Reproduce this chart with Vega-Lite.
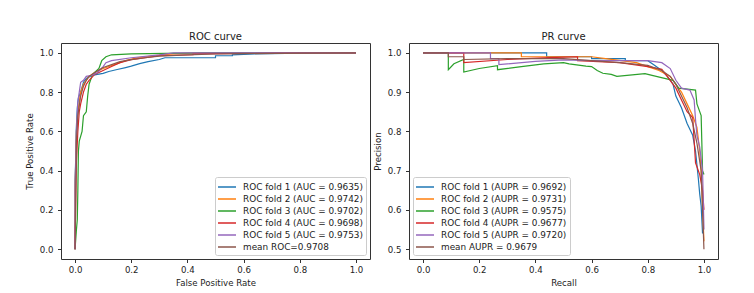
{
  "$schema": "https://vega.github.io/schema/vega-lite/v6.json",
  "background": "white",
  "padding": {"left": 24, "top": 31, "right": 5, "bottom": 5},
  "bounds": "flush",
  "spacing": 39,
  "config": {
    "font": "DejaVu Sans",
    "view": {"stroke": "#333", "strokeWidth": 1},
    "axis": {"domain": false, "grid": false, "ticks": true, "tickSize": 3.5, "tickColor": "#333", "labelFontSize": 8.6, "labelColor": "#222", "titleFontSize": 8.6, "titleFontWeight": "normal", "titleColor": "#222", "labelPadding": 3, "titlePadding": 4},
    "axisY": {"labelPadding": 4.5, "titlePadding": 5},
    "title": {"fontSize": 10, "fontWeight": "normal", "color": "#222", "offset": 1},
    "legend": {"symbolType": "M-1.5,0H1.5", "symbolSize": 144, "symbolStrokeWidth": 1.5, "symbolOffset": 2, "labelFontSize": 8.9, "labelColor": "#222", "rowPadding": 0, "padding": 3, "strokeColor": "#cccccc", "cornerRadius": 2, "fillColor": "white", "labelOffset": 9, "offset": 4}
  },
  "datasets": {
    "roc": [
      {"f":"ROC fold 1 (AUC = 0.9635)","i":0,"x":0,"y":0},{"f":"ROC fold 1 (AUC = 0.9635)","i":1,"x":0,"y":0.35},{"f":"ROC fold 1 (AUC = 0.9635)","i":2,"x":0.002,"y":0.44},{"f":"ROC fold 1 (AUC = 0.9635)","i":3,"x":0.004,"y":0.6},{"f":"ROC fold 1 (AUC = 0.9635)","i":4,"x":0.008,"y":0.72},{"f":"ROC fold 1 (AUC = 0.9635)","i":5,"x":0.012,"y":0.77},{"f":"ROC fold 1 (AUC = 0.9635)","i":6,"x":0.02,"y":0.8},{"f":"ROC fold 1 (AUC = 0.9635)","i":7,"x":0.03,"y":0.85},{"f":"ROC fold 1 (AUC = 0.9635)","i":8,"x":0.04,"y":0.87},{"f":"ROC fold 1 (AUC = 0.9635)","i":9,"x":0.06,"y":0.885},{"f":"ROC fold 1 (AUC = 0.9635)","i":10,"x":0.08,"y":0.89},{"f":"ROC fold 1 (AUC = 0.9635)","i":11,"x":0.1,"y":0.895},{"f":"ROC fold 1 (AUC = 0.9635)","i":12,"x":0.12,"y":0.905},{"f":"ROC fold 1 (AUC = 0.9635)","i":13,"x":0.15,"y":0.915},{"f":"ROC fold 1 (AUC = 0.9635)","i":14,"x":0.18,"y":0.925},{"f":"ROC fold 1 (AUC = 0.9635)","i":15,"x":0.2,"y":0.932},{"f":"ROC fold 1 (AUC = 0.9635)","i":16,"x":0.23,"y":0.945},{"f":"ROC fold 1 (AUC = 0.9635)","i":17,"x":0.26,"y":0.955},{"f":"ROC fold 1 (AUC = 0.9635)","i":18,"x":0.3,"y":0.966},{"f":"ROC fold 1 (AUC = 0.9635)","i":19,"x":0.32,"y":0.975},{"f":"ROC fold 1 (AUC = 0.9635)","i":20,"x":0.5,"y":0.975},{"f":"ROC fold 1 (AUC = 0.9635)","i":21,"x":0.5,"y":0.985},{"f":"ROC fold 1 (AUC = 0.9635)","i":22,"x":0.56,"y":0.985},{"f":"ROC fold 1 (AUC = 0.9635)","i":23,"x":0.56,"y":0.99},{"f":"ROC fold 1 (AUC = 0.9635)","i":24,"x":0.64,"y":0.995},{"f":"ROC fold 1 (AUC = 0.9635)","i":25,"x":0.86,"y":1},{"f":"ROC fold 1 (AUC = 0.9635)","i":26,"x":1,"y":1},
      {"f":"ROC fold 2 (AUC = 0.9742)","i":0,"x":0,"y":0},{"f":"ROC fold 2 (AUC = 0.9742)","i":1,"x":0,"y":0.3},{"f":"ROC fold 2 (AUC = 0.9742)","i":2,"x":0.005,"y":0.6},{"f":"ROC fold 2 (AUC = 0.9742)","i":3,"x":0.01,"y":0.7},{"f":"ROC fold 2 (AUC = 0.9742)","i":4,"x":0.02,"y":0.8},{"f":"ROC fold 2 (AUC = 0.9742)","i":5,"x":0.03,"y":0.84},{"f":"ROC fold 2 (AUC = 0.9742)","i":6,"x":0.05,"y":0.88},{"f":"ROC fold 2 (AUC = 0.9742)","i":7,"x":0.07,"y":0.9},{"f":"ROC fold 2 (AUC = 0.9742)","i":8,"x":0.1,"y":0.92},{"f":"ROC fold 2 (AUC = 0.9742)","i":9,"x":0.14,"y":0.94},{"f":"ROC fold 2 (AUC = 0.9742)","i":10,"x":0.18,"y":0.96},{"f":"ROC fold 2 (AUC = 0.9742)","i":11,"x":0.22,"y":0.975},{"f":"ROC fold 2 (AUC = 0.9742)","i":12,"x":0.28,"y":0.985},{"f":"ROC fold 2 (AUC = 0.9742)","i":13,"x":0.35,"y":0.995},{"f":"ROC fold 2 (AUC = 0.9742)","i":14,"x":0.45,"y":1},{"f":"ROC fold 2 (AUC = 0.9742)","i":15,"x":1,"y":1},
      {"f":"ROC fold 3 (AUC = 0.9702)","i":0,"x":0,"y":0},{"f":"ROC fold 3 (AUC = 0.9702)","i":1,"x":0.005,"y":0.1},{"f":"ROC fold 3 (AUC = 0.9702)","i":2,"x":0.008,"y":0.15},{"f":"ROC fold 3 (AUC = 0.9702)","i":3,"x":0.01,"y":0.3},{"f":"ROC fold 3 (AUC = 0.9702)","i":4,"x":0.012,"y":0.5},{"f":"ROC fold 3 (AUC = 0.9702)","i":5,"x":0.015,"y":0.55},{"f":"ROC fold 3 (AUC = 0.9702)","i":6,"x":0.025,"y":0.6},{"f":"ROC fold 3 (AUC = 0.9702)","i":7,"x":0.03,"y":0.68},{"f":"ROC fold 3 (AUC = 0.9702)","i":8,"x":0.04,"y":0.7},{"f":"ROC fold 3 (AUC = 0.9702)","i":9,"x":0.045,"y":0.78},{"f":"ROC fold 3 (AUC = 0.9702)","i":10,"x":0.05,"y":0.84},{"f":"ROC fold 3 (AUC = 0.9702)","i":11,"x":0.06,"y":0.88},{"f":"ROC fold 3 (AUC = 0.9702)","i":12,"x":0.07,"y":0.9},{"f":"ROC fold 3 (AUC = 0.9702)","i":13,"x":0.085,"y":0.92},{"f":"ROC fold 3 (AUC = 0.9702)","i":14,"x":0.095,"y":0.96},{"f":"ROC fold 3 (AUC = 0.9702)","i":15,"x":0.11,"y":0.98},{"f":"ROC fold 3 (AUC = 0.9702)","i":16,"x":0.13,"y":0.99},{"f":"ROC fold 3 (AUC = 0.9702)","i":17,"x":0.2,"y":0.995},{"f":"ROC fold 3 (AUC = 0.9702)","i":18,"x":0.45,"y":1},{"f":"ROC fold 3 (AUC = 0.9702)","i":19,"x":1,"y":1},
      {"f":"ROC fold 4 (AUC = 0.9698)","i":0,"x":0,"y":0},{"f":"ROC fold 4 (AUC = 0.9698)","i":1,"x":0.002,"y":0.2},{"f":"ROC fold 4 (AUC = 0.9698)","i":2,"x":0.005,"y":0.45},{"f":"ROC fold 4 (AUC = 0.9698)","i":3,"x":0.01,"y":0.6},{"f":"ROC fold 4 (AUC = 0.9698)","i":4,"x":0.015,"y":0.7},{"f":"ROC fold 4 (AUC = 0.9698)","i":5,"x":0.02,"y":0.74},{"f":"ROC fold 4 (AUC = 0.9698)","i":6,"x":0.03,"y":0.8},{"f":"ROC fold 4 (AUC = 0.9698)","i":7,"x":0.04,"y":0.84},{"f":"ROC fold 4 (AUC = 0.9698)","i":8,"x":0.05,"y":0.86},{"f":"ROC fold 4 (AUC = 0.9698)","i":9,"x":0.07,"y":0.89},{"f":"ROC fold 4 (AUC = 0.9698)","i":10,"x":0.1,"y":0.91},{"f":"ROC fold 4 (AUC = 0.9698)","i":11,"x":0.13,"y":0.93},{"f":"ROC fold 4 (AUC = 0.9698)","i":12,"x":0.16,"y":0.95},{"f":"ROC fold 4 (AUC = 0.9698)","i":13,"x":0.2,"y":0.965},{"f":"ROC fold 4 (AUC = 0.9698)","i":14,"x":0.25,"y":0.975},{"f":"ROC fold 4 (AUC = 0.9698)","i":15,"x":0.3,"y":0.985},{"f":"ROC fold 4 (AUC = 0.9698)","i":16,"x":0.42,"y":0.99},{"f":"ROC fold 4 (AUC = 0.9698)","i":17,"x":0.42,"y":0.995},{"f":"ROC fold 4 (AUC = 0.9698)","i":18,"x":0.6,"y":0.997},{"f":"ROC fold 4 (AUC = 0.9698)","i":19,"x":0.75,"y":1},{"f":"ROC fold 4 (AUC = 0.9698)","i":20,"x":1,"y":1},
      {"f":"ROC fold 5 (AUC = 0.9753)","i":0,"x":0,"y":0},{"f":"ROC fold 5 (AUC = 0.9753)","i":1,"x":0,"y":0.3},{"f":"ROC fold 5 (AUC = 0.9753)","i":2,"x":0.005,"y":0.6},{"f":"ROC fold 5 (AUC = 0.9753)","i":3,"x":0.01,"y":0.75},{"f":"ROC fold 5 (AUC = 0.9753)","i":4,"x":0.015,"y":0.8},{"f":"ROC fold 5 (AUC = 0.9753)","i":5,"x":0.02,"y":0.85},{"f":"ROC fold 5 (AUC = 0.9753)","i":6,"x":0.03,"y":0.86},{"f":"ROC fold 5 (AUC = 0.9753)","i":7,"x":0.04,"y":0.88},{"f":"ROC fold 5 (AUC = 0.9753)","i":8,"x":0.06,"y":0.885},{"f":"ROC fold 5 (AUC = 0.9753)","i":9,"x":0.08,"y":0.9},{"f":"ROC fold 5 (AUC = 0.9753)","i":10,"x":0.1,"y":0.93},{"f":"ROC fold 5 (AUC = 0.9753)","i":11,"x":0.11,"y":0.95},{"f":"ROC fold 5 (AUC = 0.9753)","i":12,"x":0.13,"y":0.96},{"f":"ROC fold 5 (AUC = 0.9753)","i":13,"x":0.2,"y":0.975},{"f":"ROC fold 5 (AUC = 0.9753)","i":14,"x":0.3,"y":0.99},{"f":"ROC fold 5 (AUC = 0.9753)","i":15,"x":0.35,"y":1},{"f":"ROC fold 5 (AUC = 0.9753)","i":16,"x":1,"y":1},
      {"f":"mean ROC=0.9708","i":0,"x":0,"y":0},{"f":"mean ROC=0.9708","i":1,"x":0.005,"y":0.55},{"f":"mean ROC=0.9708","i":2,"x":0.01,"y":0.68},{"f":"mean ROC=0.9708","i":3,"x":0.02,"y":0.78},{"f":"mean ROC=0.9708","i":4,"x":0.03,"y":0.83},{"f":"mean ROC=0.9708","i":5,"x":0.04,"y":0.86},{"f":"mean ROC=0.9708","i":6,"x":0.05,"y":0.88},{"f":"mean ROC=0.9708","i":7,"x":0.07,"y":0.9},{"f":"mean ROC=0.9708","i":8,"x":0.1,"y":0.925},{"f":"mean ROC=0.9708","i":9,"x":0.13,"y":0.94},{"f":"mean ROC=0.9708","i":10,"x":0.16,"y":0.955},{"f":"mean ROC=0.9708","i":11,"x":0.2,"y":0.965},{"f":"mean ROC=0.9708","i":12,"x":0.25,"y":0.975},{"f":"mean ROC=0.9708","i":13,"x":0.3,"y":0.983},{"f":"mean ROC=0.9708","i":14,"x":0.4,"y":0.99},{"f":"mean ROC=0.9708","i":15,"x":0.5,"y":0.994},{"f":"mean ROC=0.9708","i":16,"x":0.6,"y":0.996},{"f":"mean ROC=0.9708","i":17,"x":0.8,"y":0.998},{"f":"mean ROC=0.9708","i":18,"x":1,"y":1}
    ],
    "pr": [
      {"f":"ROC fold 1 (AUPR = 0.9692)","i":0,"x":0,"y":1},{"f":"ROC fold 1 (AUPR = 0.9692)","i":1,"x":0.44,"y":1},{"f":"ROC fold 1 (AUPR = 0.9692)","i":2,"x":0.44,"y":0.99},{"f":"ROC fold 1 (AUPR = 0.9692)","i":3,"x":0.6,"y":0.99},{"f":"ROC fold 1 (AUPR = 0.9692)","i":4,"x":0.6,"y":0.985},{"f":"ROC fold 1 (AUPR = 0.9692)","i":5,"x":0.72,"y":0.985},{"f":"ROC fold 1 (AUPR = 0.9692)","i":6,"x":0.72,"y":0.98},{"f":"ROC fold 1 (AUPR = 0.9692)","i":7,"x":0.8,"y":0.98},{"f":"ROC fold 1 (AUPR = 0.9692)","i":8,"x":0.82,"y":0.97},{"f":"ROC fold 1 (AUPR = 0.9692)","i":9,"x":0.85,"y":0.955},{"f":"ROC fold 1 (AUPR = 0.9692)","i":10,"x":0.87,"y":0.94},{"f":"ROC fold 1 (AUPR = 0.9692)","i":11,"x":0.89,"y":0.92},{"f":"ROC fold 1 (AUPR = 0.9692)","i":12,"x":0.9,"y":0.89},{"f":"ROC fold 1 (AUPR = 0.9692)","i":13,"x":0.92,"y":0.86},{"f":"ROC fold 1 (AUPR = 0.9692)","i":14,"x":0.94,"y":0.82},{"f":"ROC fold 1 (AUPR = 0.9692)","i":15,"x":0.96,"y":0.79},{"f":"ROC fold 1 (AUPR = 0.9692)","i":16,"x":0.97,"y":0.75},{"f":"ROC fold 1 (AUPR = 0.9692)","i":17,"x":0.98,"y":0.68},{"f":"ROC fold 1 (AUPR = 0.9692)","i":18,"x":0.985,"y":0.64},{"f":"ROC fold 1 (AUPR = 0.9692)","i":19,"x":0.99,"y":0.61},{"f":"ROC fold 1 (AUPR = 0.9692)","i":20,"x":0.995,"y":0.54},
      {"f":"ROC fold 2 (AUPR = 0.9731)","i":0,"x":0,"y":1},{"f":"ROC fold 2 (AUPR = 0.9731)","i":1,"x":0.35,"y":1},{"f":"ROC fold 2 (AUPR = 0.9731)","i":2,"x":0.35,"y":0.99},{"f":"ROC fold 2 (AUPR = 0.9731)","i":3,"x":0.6,"y":0.99},{"f":"ROC fold 2 (AUPR = 0.9731)","i":4,"x":0.65,"y":0.985},{"f":"ROC fold 2 (AUPR = 0.9731)","i":5,"x":0.76,"y":0.975},{"f":"ROC fold 2 (AUPR = 0.9731)","i":6,"x":0.8,"y":0.965},{"f":"ROC fold 2 (AUPR = 0.9731)","i":7,"x":0.84,"y":0.955},{"f":"ROC fold 2 (AUPR = 0.9731)","i":8,"x":0.88,"y":0.94},{"f":"ROC fold 2 (AUPR = 0.9731)","i":9,"x":0.9,"y":0.92},{"f":"ROC fold 2 (AUPR = 0.9731)","i":10,"x":0.92,"y":0.9},{"f":"ROC fold 2 (AUPR = 0.9731)","i":11,"x":0.94,"y":0.87},{"f":"ROC fold 2 (AUPR = 0.9731)","i":12,"x":0.96,"y":0.84},{"f":"ROC fold 2 (AUPR = 0.9731)","i":13,"x":0.975,"y":0.81},{"f":"ROC fold 2 (AUPR = 0.9731)","i":14,"x":0.985,"y":0.75},{"f":"ROC fold 2 (AUPR = 0.9731)","i":15,"x":0.99,"y":0.7},{"f":"ROC fold 2 (AUPR = 0.9731)","i":16,"x":1,"y":0.52},
      {"f":"ROC fold 3 (AUPR = 0.9575)","i":0,"x":0,"y":1},{"f":"ROC fold 3 (AUPR = 0.9575)","i":1,"x":0.09,"y":1},{"f":"ROC fold 3 (AUPR = 0.9575)","i":2,"x":0.09,"y":0.957},{"f":"ROC fold 3 (AUPR = 0.9575)","i":3,"x":0.11,"y":0.972},{"f":"ROC fold 3 (AUPR = 0.9575)","i":4,"x":0.145,"y":0.983},{"f":"ROC fold 3 (AUPR = 0.9575)","i":5,"x":0.145,"y":0.951},{"f":"ROC fold 3 (AUPR = 0.9575)","i":6,"x":0.2,"y":0.96},{"f":"ROC fold 3 (AUPR = 0.9575)","i":7,"x":0.265,"y":0.967},{"f":"ROC fold 3 (AUPR = 0.9575)","i":8,"x":0.265,"y":0.957},{"f":"ROC fold 3 (AUPR = 0.9575)","i":9,"x":0.35,"y":0.965},{"f":"ROC fold 3 (AUPR = 0.9575)","i":10,"x":0.43,"y":0.972},{"f":"ROC fold 3 (AUPR = 0.9575)","i":11,"x":0.5,"y":0.975},{"f":"ROC fold 3 (AUPR = 0.9575)","i":12,"x":0.52,"y":0.972},{"f":"ROC fold 3 (AUPR = 0.9575)","i":13,"x":0.58,"y":0.966},{"f":"ROC fold 3 (AUPR = 0.9575)","i":14,"x":0.6,"y":0.965},{"f":"ROC fold 3 (AUPR = 0.9575)","i":15,"x":0.62,"y":0.955},{"f":"ROC fold 3 (AUPR = 0.9575)","i":16,"x":0.64,"y":0.948},{"f":"ROC fold 3 (AUPR = 0.9575)","i":17,"x":0.67,"y":0.945},{"f":"ROC fold 3 (AUPR = 0.9575)","i":18,"x":0.69,"y":0.94},{"f":"ROC fold 3 (AUPR = 0.9575)","i":19,"x":0.79,"y":0.947},{"f":"ROC fold 3 (AUPR = 0.9575)","i":20,"x":0.83,"y":0.94},{"f":"ROC fold 3 (AUPR = 0.9575)","i":21,"x":0.86,"y":0.935},{"f":"ROC fold 3 (AUPR = 0.9575)","i":22,"x":0.89,"y":0.93},{"f":"ROC fold 3 (AUPR = 0.9575)","i":23,"x":0.91,"y":0.91},{"f":"ROC fold 3 (AUPR = 0.9575)","i":24,"x":0.97,"y":0.905},{"f":"ROC fold 3 (AUPR = 0.9575)","i":25,"x":0.975,"y":0.87},{"f":"ROC fold 3 (AUPR = 0.9575)","i":26,"x":0.99,"y":0.84},{"f":"ROC fold 3 (AUPR = 0.9575)","i":27,"x":0.995,"y":0.7},{"f":"ROC fold 3 (AUPR = 0.9575)","i":28,"x":1,"y":0.69},
      {"f":"ROC fold 4 (AUPR = 0.9677)","i":0,"x":0,"y":1},{"f":"ROC fold 4 (AUPR = 0.9677)","i":1,"x":0.145,"y":1},{"f":"ROC fold 4 (AUPR = 0.9677)","i":2,"x":0.145,"y":0.975},{"f":"ROC fold 4 (AUPR = 0.9677)","i":3,"x":0.3,"y":0.983},{"f":"ROC fold 4 (AUPR = 0.9677)","i":4,"x":0.45,"y":0.988},{"f":"ROC fold 4 (AUPR = 0.9677)","i":5,"x":0.55,"y":0.99},{"f":"ROC fold 4 (AUPR = 0.9677)","i":6,"x":0.55,"y":0.98},{"f":"ROC fold 4 (AUPR = 0.9677)","i":7,"x":0.7,"y":0.975},{"f":"ROC fold 4 (AUPR = 0.9677)","i":8,"x":0.8,"y":0.965},{"f":"ROC fold 4 (AUPR = 0.9677)","i":9,"x":0.85,"y":0.958},{"f":"ROC fold 4 (AUPR = 0.9677)","i":10,"x":0.88,"y":0.93},{"f":"ROC fold 4 (AUPR = 0.9677)","i":11,"x":0.9,"y":0.91},{"f":"ROC fold 4 (AUPR = 0.9677)","i":12,"x":0.92,"y":0.88},{"f":"ROC fold 4 (AUPR = 0.9677)","i":13,"x":0.94,"y":0.85},{"f":"ROC fold 4 (AUPR = 0.9677)","i":14,"x":0.96,"y":0.835},{"f":"ROC fold 4 (AUPR = 0.9677)","i":15,"x":0.97,"y":0.72},{"f":"ROC fold 4 (AUPR = 0.9677)","i":16,"x":0.985,"y":0.69},{"f":"ROC fold 4 (AUPR = 0.9677)","i":17,"x":0.995,"y":0.65},{"f":"ROC fold 4 (AUPR = 0.9677)","i":18,"x":1,"y":0.6},
      {"f":"ROC fold 5 (AUPR = 0.9720)","i":0,"x":0,"y":1},{"f":"ROC fold 5 (AUPR = 0.9720)","i":1,"x":0.24,"y":1},{"f":"ROC fold 5 (AUPR = 0.9720)","i":2,"x":0.24,"y":0.985},{"f":"ROC fold 5 (AUPR = 0.9720)","i":3,"x":0.27,"y":0.985},{"f":"ROC fold 5 (AUPR = 0.9720)","i":4,"x":0.27,"y":0.97},{"f":"ROC fold 5 (AUPR = 0.9720)","i":5,"x":0.4,"y":0.978},{"f":"ROC fold 5 (AUPR = 0.9720)","i":6,"x":0.5,"y":0.982},{"f":"ROC fold 5 (AUPR = 0.9720)","i":7,"x":0.6,"y":0.98},{"f":"ROC fold 5 (AUPR = 0.9720)","i":8,"x":0.8,"y":0.98},{"f":"ROC fold 5 (AUPR = 0.9720)","i":9,"x":0.85,"y":0.975},{"f":"ROC fold 5 (AUPR = 0.9720)","i":10,"x":0.88,"y":0.96},{"f":"ROC fold 5 (AUPR = 0.9720)","i":11,"x":0.9,"y":0.93},{"f":"ROC fold 5 (AUPR = 0.9720)","i":12,"x":0.92,"y":0.91},{"f":"ROC fold 5 (AUPR = 0.9720)","i":13,"x":0.95,"y":0.905},{"f":"ROC fold 5 (AUPR = 0.9720)","i":14,"x":0.965,"y":0.88},{"f":"ROC fold 5 (AUPR = 0.9720)","i":15,"x":0.97,"y":0.83},{"f":"ROC fold 5 (AUPR = 0.9720)","i":16,"x":0.975,"y":0.79},{"f":"ROC fold 5 (AUPR = 0.9720)","i":17,"x":0.985,"y":0.76},{"f":"ROC fold 5 (AUPR = 0.9720)","i":18,"x":0.995,"y":0.7},{"f":"ROC fold 5 (AUPR = 0.9720)","i":19,"x":1,"y":0.55},
      {"f":"mean AUPR = 0.9679","i":0,"x":0,"y":1},{"f":"mean AUPR = 0.9679","i":1,"x":0.09,"y":1},{"f":"mean AUPR = 0.9679","i":2,"x":0.09,"y":0.99},{"f":"mean AUPR = 0.9679","i":3,"x":0.145,"y":0.99},{"f":"mean AUPR = 0.9679","i":4,"x":0.145,"y":0.983},{"f":"mean AUPR = 0.9679","i":5,"x":0.3,"y":0.985},{"f":"mean AUPR = 0.9679","i":6,"x":0.5,"y":0.985},{"f":"mean AUPR = 0.9679","i":7,"x":0.6,"y":0.98},{"f":"mean AUPR = 0.9679","i":8,"x":0.7,"y":0.975},{"f":"mean AUPR = 0.9679","i":9,"x":0.8,"y":0.968},{"f":"mean AUPR = 0.9679","i":10,"x":0.85,"y":0.955},{"f":"mean AUPR = 0.9679","i":11,"x":0.88,"y":0.94},{"f":"mean AUPR = 0.9679","i":12,"x":0.9,"y":0.92},{"f":"mean AUPR = 0.9679","i":13,"x":0.92,"y":0.89},{"f":"mean AUPR = 0.9679","i":14,"x":0.94,"y":0.86},{"f":"mean AUPR = 0.9679","i":15,"x":0.96,"y":0.82},{"f":"mean AUPR = 0.9679","i":16,"x":0.975,"y":0.77},{"f":"mean AUPR = 0.9679","i":17,"x":0.99,"y":0.7},{"f":"mean AUPR = 0.9679","i":18,"x":1,"y":0.5}
    ]
  },
  "resolve": {"scale": {"color": "independent"}, "legend": {"color": "independent"}},
  "hconcat": [
    {
      "width": 309, "height": 216,
      "title": "ROC curve",
      "data": {"name": "roc"},
      "mark": {"type": "line", "strokeWidth": 1.2, "clip": true},
      "encoding": {
        "x": {"field": "x", "type": "quantitative", "scale": {"domain": [-0.05, 1.05], "nice": false, "zero": false}, "axis": {"title": "False Positive Rate", "values": [0, 0.2, 0.4, 0.6, 0.8, 1.0], "format": ".1f"}},
        "y": {"field": "y", "type": "quantitative", "scale": {"domain": [-0.05, 1.05], "nice": false, "zero": false}, "axis": {"title": "True Positive Rate", "values": [0, 0.2, 0.4, 0.6, 0.8, 1.0], "format": ".1f"}},
        "color": {"field": "f", "type": "nominal", "scale": {"domain": ["ROC fold 1 (AUC = 0.9635)", "ROC fold 2 (AUC = 0.9742)", "ROC fold 3 (AUC = 0.9702)", "ROC fold 4 (AUC = 0.9698)", "ROC fold 5 (AUC = 0.9753)", "mean ROC=0.9708"], "range": ["#1f77b4", "#ff7f0e", "#2ca02c", "#d62728", "#9467bd", "#8c564b"]}, "legend": {"title": null, "orient": "bottom-right"}},
        "order": {"field": "i", "type": "quantitative"}
      }
    },
    {
      "width": 309, "height": 216,
      "title": "PR curve",
      "data": {"name": "pr"},
      "mark": {"type": "line", "strokeWidth": 1.2, "clip": true},
      "encoding": {
        "x": {"field": "x", "type": "quantitative", "scale": {"domain": [-0.05, 1.05], "nice": false, "zero": false}, "axis": {"title": "Recall", "values": [0, 0.2, 0.4, 0.6, 0.8, 1.0], "format": ".1f"}},
        "y": {"field": "y", "type": "quantitative", "scale": {"domain": [0.475, 1.025], "nice": false, "zero": false}, "axis": {"title": "Precision", "values": [0.5, 0.6, 0.7, 0.8, 0.9, 1.0], "format": ".1f"}},
        "color": {"field": "f", "type": "nominal", "scale": {"domain": ["ROC fold 1 (AUPR = 0.9692)", "ROC fold 2 (AUPR = 0.9731)", "ROC fold 3 (AUPR = 0.9575)", "ROC fold 4 (AUPR = 0.9677)", "ROC fold 5 (AUPR = 0.9720)", "mean AUPR = 0.9679"], "range": ["#1f77b4", "#ff7f0e", "#2ca02c", "#d62728", "#9467bd", "#8c564b"]}, "legend": {"title": null, "orient": "bottom-left"}},
        "order": {"field": "i", "type": "quantitative"}
      }
    }
  ]
}
